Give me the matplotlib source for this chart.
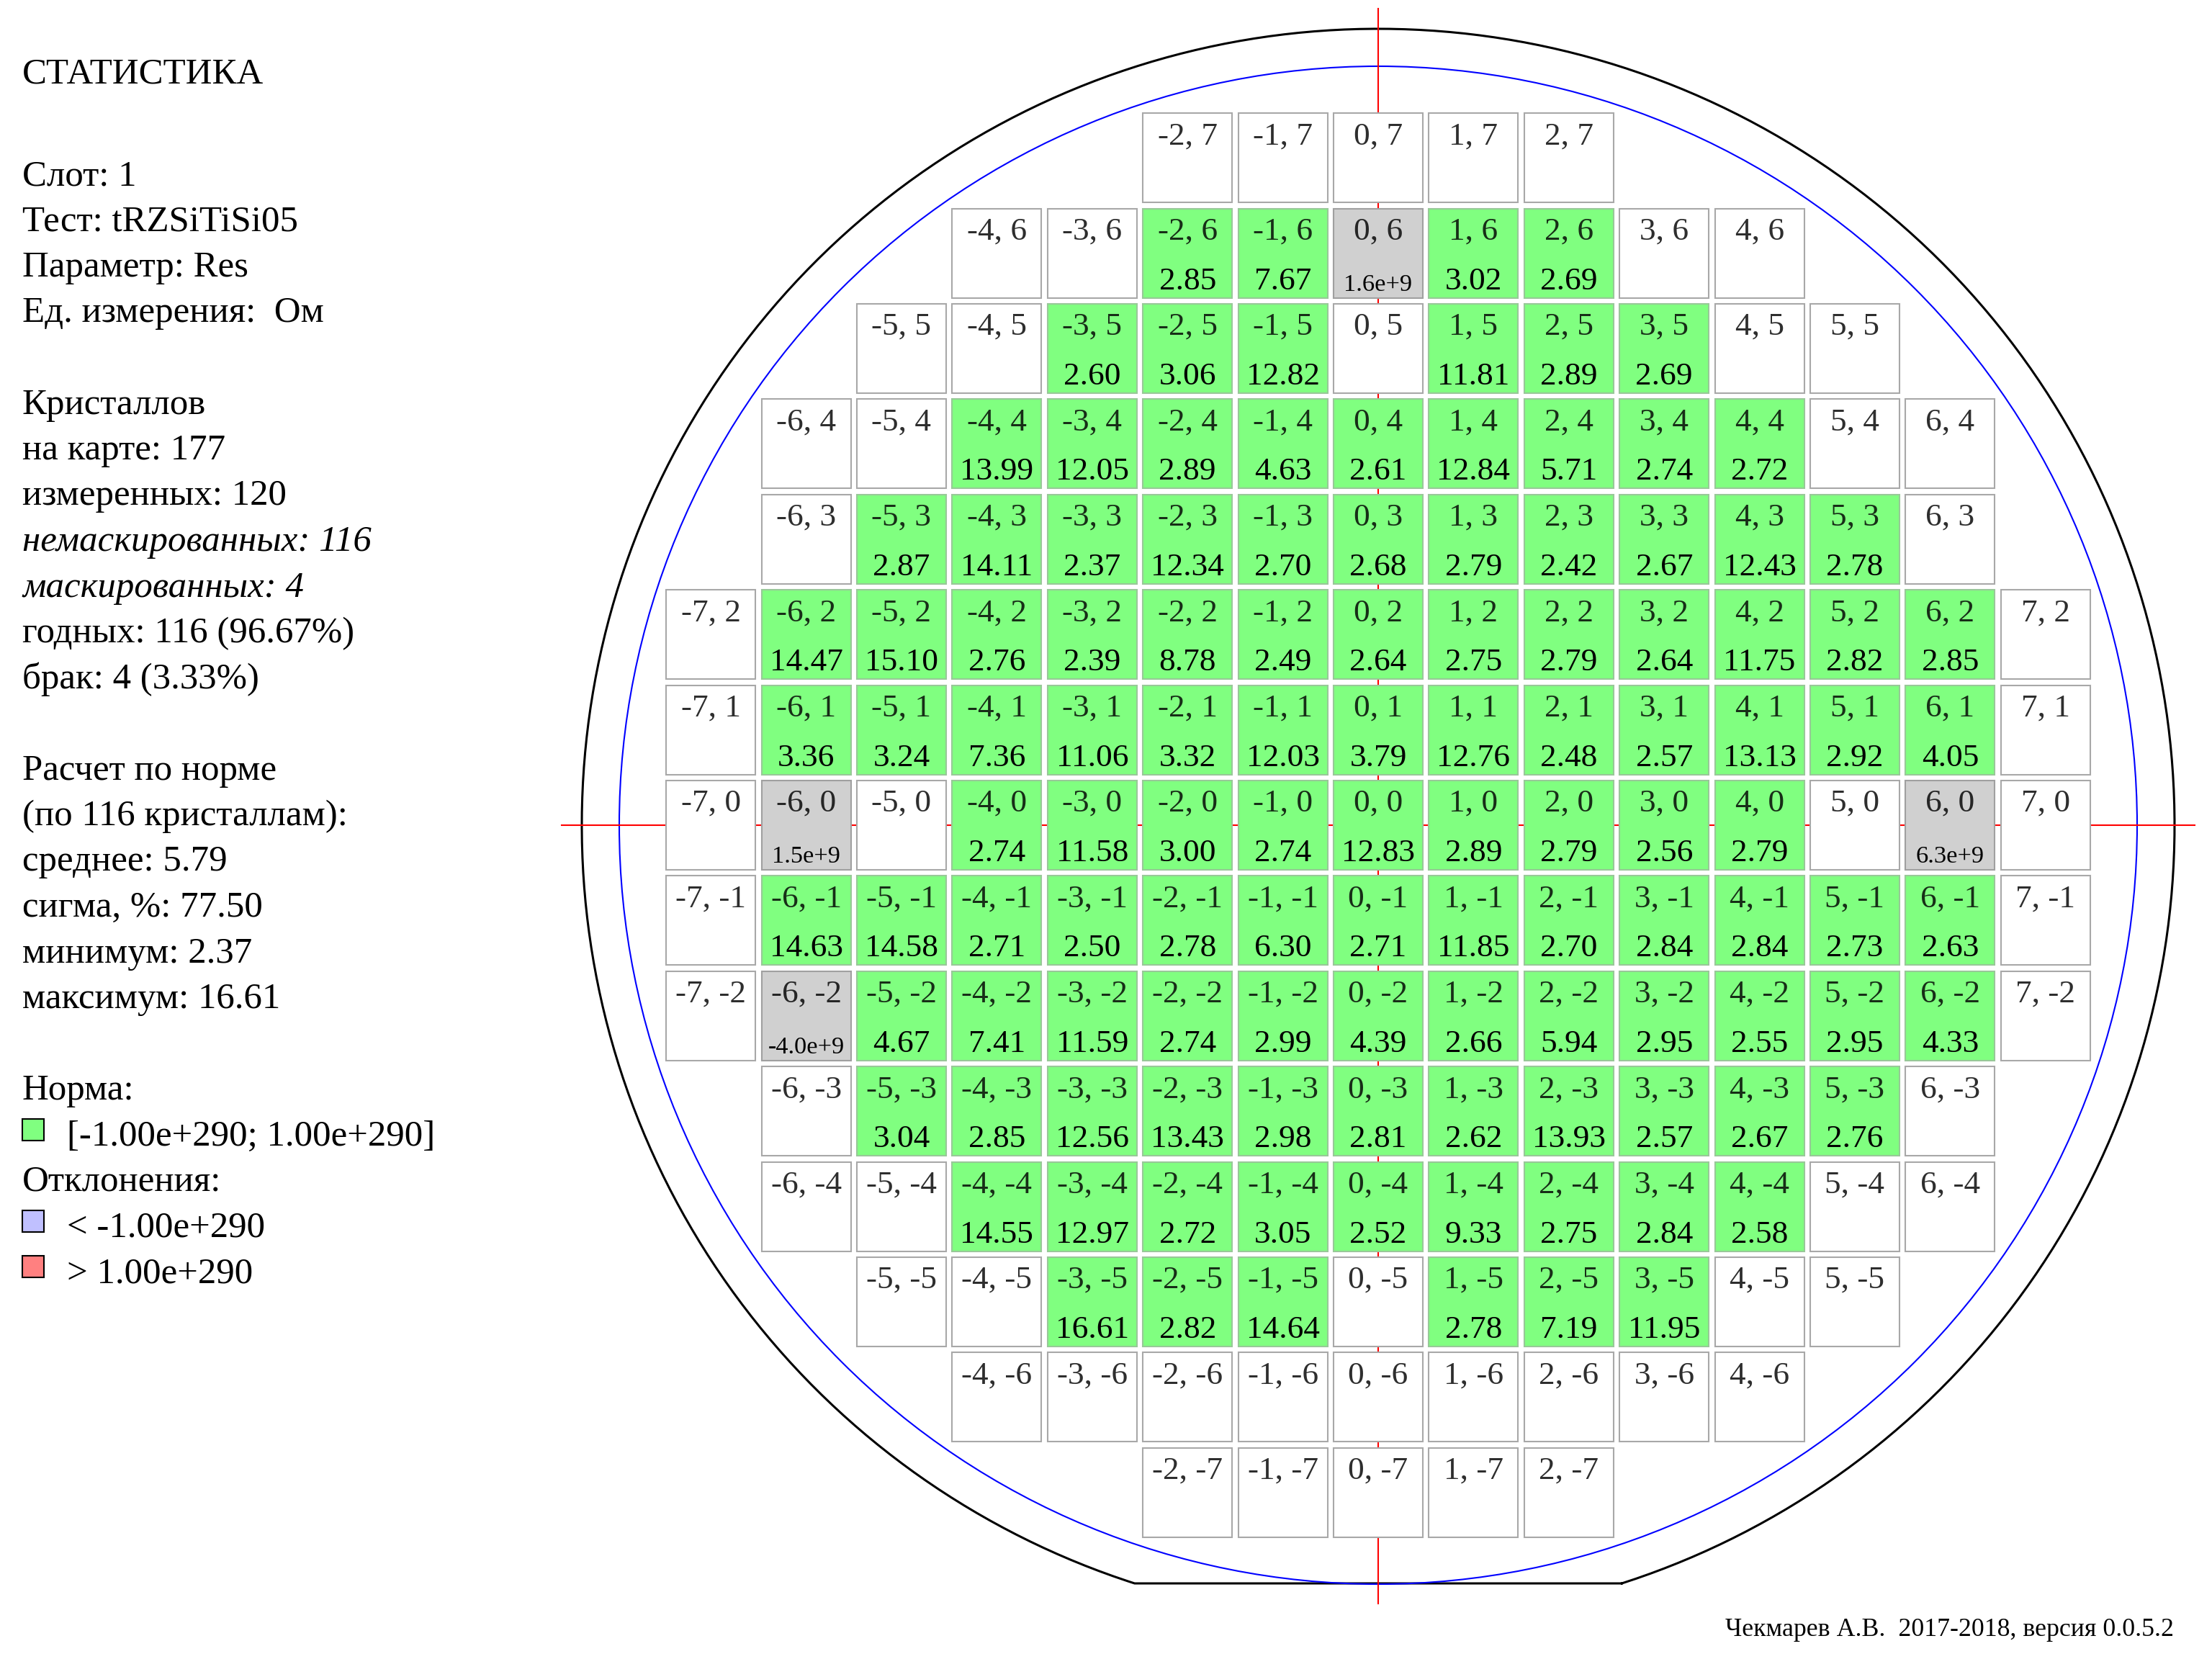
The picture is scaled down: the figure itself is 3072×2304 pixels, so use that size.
import numpy as np
import matplotlib
matplotlib.use("Agg")
import matplotlib.pyplot as plt
from matplotlib.patches import Rectangle, Circle

plt.rcParams["font.family"] = ["Liberation Serif", "DejaVu Serif"]

# wafer map: rows from top (y=7) to bottom (y=-7), first die x in each row
ROWS = [7, 6, 5, 4, 3, 2, 1, 0, -1, -2, -3, -4, -5, -6, -7]
ROW_START = [-2, -4, -5, -6, -6, -7, -7, -7, -7, -7, -6, -6, -5, -4, -2]
ROW_VALUES = [
    [None] * 5,
    [None, None, 2.85, 7.67, 1.6e9, 3.02, 2.69, None, None],
    [None, None, 2.60, 3.06, 12.82, None, 11.81, 2.89, 2.69, None, None],
    [None, None, 13.99, 12.05, 2.89, 4.63, 2.61, 12.84, 5.71, 2.74, 2.72, None, None],
    [None, 2.87, 14.11, 2.37, 12.34, 2.70, 2.68, 2.79, 2.42, 2.67, 12.43, 2.78, None],
    [None, 14.47, 15.10, 2.76, 2.39, 8.78, 2.49, 2.64, 2.75, 2.79, 2.64, 11.75, 2.82, 2.85, None],
    [None, 3.36, 3.24, 7.36, 11.06, 3.32, 12.03, 3.79, 12.76, 2.48, 2.57, 13.13, 2.92, 4.05, None],
    [None, 1.5e9, None, 2.74, 11.58, 3.00, 2.74, 12.83, 2.89, 2.79, 2.56, 2.79, None, 6.3e9, None],
    [None, 14.63, 14.58, 2.71, 2.50, 2.78, 6.30, 2.71, 11.85, 2.70, 2.84, 2.84, 2.73, 2.63, None],
    [None, -4.0e9, 4.67, 7.41, 11.59, 2.74, 2.99, 4.39, 2.66, 5.94, 2.95, 2.55, 2.95, 4.33, None],
    [None, 3.04, 2.85, 12.56, 13.43, 2.98, 2.81, 2.62, 13.93, 2.57, 2.67, 2.76, None],
    [None, None, 14.55, 12.97, 2.72, 3.05, 2.52, 9.33, 2.75, 2.84, 2.58, None, None],
    [None, None, 16.61, 2.82, 14.64, None, 2.78, 7.19, 11.95, None, None],
    [None] * 9,
    [None] * 5,
]
MASKED = [(0, 6), (-6, 0), (6, 0), (-6, -2)]

STATS_LINES = [
    ("Слот: 1", "normal"),
    ("Тест: tRZSiTiSi05", "normal"),
    ("Параметр: Res", "normal"),
    ("Ед. измерения:  Ом", "normal"),
    ("", "normal"),
    ("Кристаллов", "normal"),
    ("на карте: 177", "normal"),
    ("измеренных: 120", "normal"),
    ("немаскированных: 116", "italic"),
    ("маскированных: 4", "italic"),
    ("годных: 116 (96.67%)", "normal"),
    ("брак: 4 (3.33%)", "normal"),
    ("", "normal"),
    ("Расчет по норме", "normal"),
    ("(по 116 кристаллам):", "normal"),
    ("среднее: 5.79", "normal"),
    ("сигма, %: 77.50", "normal"),
    ("минимум: 2.37", "normal"),
    ("максимум: 16.61", "normal"),
    ("", "normal"),
    ("Норма:", "normal"),
    ("", "normal"),
    ("Отклонения:", "normal"),
]
LEGEND_LABELS = ["[-1.00e+290; 1.00e+290]", "< -1.00e+290", "> 1.00e+290"]
LEGEND_COLORS = ["#80ff80", "#c0c0ff", "#ff8080"]
LEGEND_LINES = [21, 23, 24]

GREEN = "#80ff80"
GREY = "#d0d0d0"

# layout in pixels
W, H, DPI = 3072, 2304, 200
PX = 132.4             # die pitch in px
CX, CY = 1914, 1146    # wafer centre (px from left / top)
CELL = 124 / PX

fig = plt.figure(figsize=(W / DPI, H / DPI), dpi=DPI, facecolor="white")
ax = fig.add_axes([0, 0, 1, 1])
ax.set_xlim(-CX / PX, (W - CX) / PX)
ax.set_ylim(-(H - CY) / PX, CY / PX)
ax.axis("off")

# wafer outline with flat, edge-exclusion circle, cross-hair
r_out = 1106 / PX
d_flat = 1053 / PX
x_flat = np.sqrt(r_out ** 2 - d_flat ** 2)
t0 = np.arctan2(-d_flat, x_flat)
t = np.linspace(t0, np.pi - t0, 600)
ox = np.r_[r_out * np.cos(t), x_flat]
oy = np.r_[r_out * np.sin(t), -d_flat]
ax.plot(ox, oy, color="black", lw=1.1, zorder=1)
ax.add_patch(Circle((0, 0), 1054 / PX, fill=False, ec="blue", lw=0.75, zorder=1))
ax.plot([-1134 / PX, 1134 / PX], [0, 0], color="red", lw=0.75, zorder=1)
ax.plot([0, 0], [1134 / PX, -1081 / PX], color="red", lw=0.75, zorder=1)


def fmt_masked(v):
    m, e = f"{v:.1e}".split("e")
    return f"{m}e{int(e):+d}"


for y, x0, vals in zip(ROWS, ROW_START, ROW_VALUES):
    for i, v in enumerate(vals):
        x = x0 + i
        masked = (x, y) in MASKED
        if v is None:
            fc, ec = "white", "#a8a8a8"
        elif masked:
            fc, ec = GREY, "#a0a0a0"
        else:
            fc, ec = GREEN, "#98c898"
        ax.add_patch(Rectangle((x - CELL / 2, y - CELL / 2), CELL, CELL,
                               fc=fc, ec=ec, lw=0.75, zorder=2))
        top = y + CELL / 2
        ax.text(x, top - 43 / PX, f"{x}, {y}", ha="center", va="baseline",
                fontsize=16.3, color="black", alpha=0.82, zorder=3)
        if v is None:
            continue
        if masked:
            ax.text(x, top - 114 / PX, fmt_masked(v), ha="center", va="baseline",
                    fontsize=12.4, color="black", zorder=3)
        else:
            ax.text(x, top - 112 / PX, f"{v:.2f}", ha="center", va="baseline",
                    fontsize=16.3, color="black", zorder=3)

# statistics panel
FS = 18.3
fig.text(31 / W, 1 - 115 / H, "СТАТИСТИКА", fontsize=FS, va="baseline")
BASE0, STEP = 257, 63.5
for i, (s, st) in enumerate(STATS_LINES):
    if s:
        fig.text(31 / W, 1 - (BASE0 + STEP * i) / H, s, fontsize=FS,
                 style=st, va="baseline")
for line, lab, col in zip(LEGEND_LINES, LEGEND_LABELS, LEGEND_COLORS):
    b = BASE0 + STEP * line
    fig.patches.append(Rectangle((31 / W, 1 - (b - 7) / H), 30 / W, 30 / H,
                                 transform=fig.transFigure, fc=col, ec="black",
                                 lw=0.75))
    fig.text(93 / W, 1 - b / H, lab, fontsize=FS, va="baseline")

fig.text(3019 / W, 1 - 2272 / H, "Чекмарев А.В.  2017-2018, версия 0.0.5.2",
         fontsize=12.9, ha="right", va="baseline")

fig.savefig("out.png", dpi=DPI, facecolor="white")
